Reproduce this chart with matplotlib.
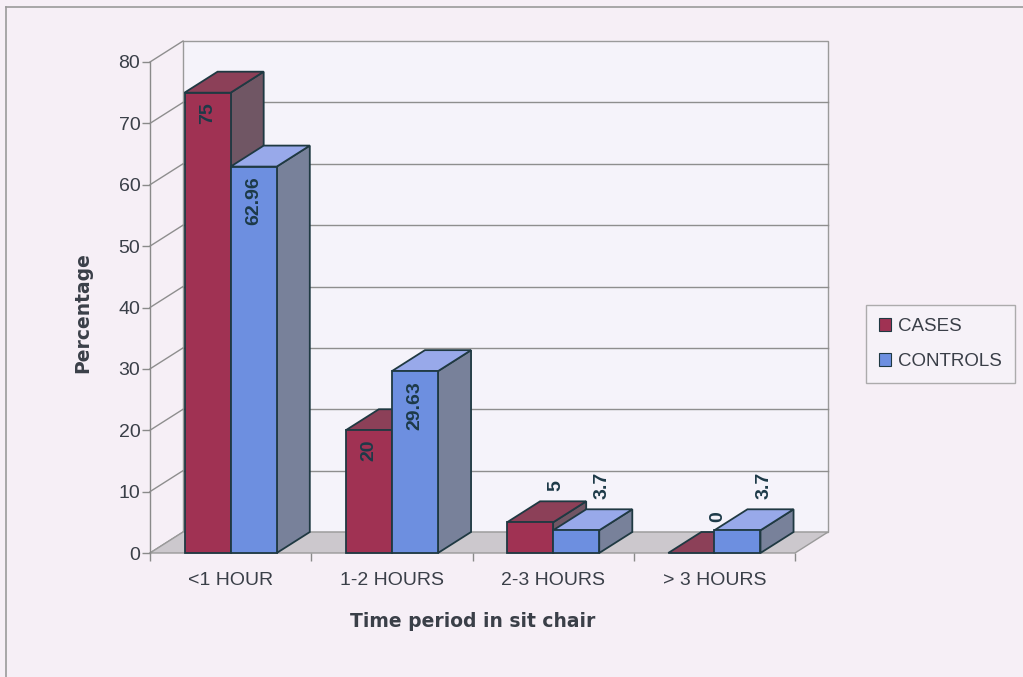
import matplotlib
matplotlib.use("Agg")
import matplotlib.pyplot as plt
from matplotlib.patches import Polygon, Rectangle
from matplotlib.lines import Line2D
from matplotlib.ticker import FixedLocator

plt.rcParams['font.family'] = ['Liberation Sans', 'DejaVu Sans']

categories = ['<1 HOUR', '1-2 HOURS', '2-3 HOURS', '> 3 HOURS']
cases = [75, 20, 5, 0]
controls = [62.96, 29.63, 3.7, 3.7]
series_names = ['CASES', 'CONTROLS']
y_ticks = [0, 10, 20, 30, 40, 50, 60, 70, 80]

# face colours: front, top, side
palette = {
    'CASES': ('#a03253', '#8c4058', '#705664'),
    'CONTROLS': ('#6d8fe0', '#98a9ea', '#78819a'),
}
edge = '#1f3942'
text_col = '#3a3f48'
label_col = '#1d3a48'

fig = plt.figure(figsize=(10.23, 6.77), dpi=100, facecolor='#f6eff6')
ax = fig.add_axes([150 / 1023, (677 - 553) / 677, 645 / 1023, 491 / 677])
ax.set_xlim(-0.5, len(categories) - 0.5)
ax.set_ylim(0, 80)
ax.patch.set_visible(False)
for s in ('top', 'right', 'bottom'):
    ax.spines[s].set_visible(False)
ax.spines['left'].set_color('#8a8a8a')
ax.spines['left'].set_linewidth(1.0)

# depth of the 3-D box in data units
dx, dy = 0.205, 3.42
x_lo, x_hi = -0.5, len(categories) - 0.5
ymax = 80

# back wall
wall = Polygon([(x_lo + dx, dy), (x_hi + dx, dy), (x_hi + dx, ymax + dy), (x_lo + dx, ymax + dy)],
               closed=True, facecolor='#f5f3fa', edgecolor='#9a9a9a', lw=1.0, clip_on=False, zorder=0)
ax.add_patch(wall)
for v in y_ticks[1:-1]:
    ax.add_line(Line2D([x_lo + dx, x_hi + dx], [v + dy, v + dy], color='#8e8e8e', lw=1.0,
                       clip_on=False, zorder=1))
for v in y_ticks:
    ax.add_line(Line2D([x_lo, x_lo + dx], [v, v + dy], color='#8e8e8e', lw=1.0,
                       clip_on=False, zorder=1))

# floor
floor = Polygon([(x_lo, 0), (x_hi, 0), (x_hi + dx, dy), (x_lo + dx, dy)], closed=True,
                facecolor='#ccc8cd', edgecolor='#9a9a9a', lw=1.0, clip_on=False, zorder=1)
ax.add_patch(floor)

bar_w = 0.286


def draw_bar(x0, v, colors):
    front, top, side = colors
    ax.add_patch(Polygon([(x0 + bar_w, 0), (x0 + bar_w + dx, dy), (x0 + bar_w + dx, v + dy), (x0 + bar_w, v)],
                         closed=True, facecolor=side, edgecolor=edge, lw=1.3, clip_on=False, zorder=3))
    ax.add_patch(Polygon([(x0, v), (x0 + bar_w, v), (x0 + bar_w + dx, v + dy), (x0 + dx, v + dy)],
                         closed=True, facecolor=top, edgecolor=edge, lw=1.3, clip_on=False, zorder=3))
    if v > 0:
        ax.add_patch(Rectangle((x0, 0), bar_w, v, facecolor=front, edgecolor=edge, lw=1.3,
                               clip_on=False, zorder=3))


def label(x0, v):
    txt = f'{v:g}'
    if v > 15:
        ax.annotate(txt, (x0 + bar_w / 2, v), xytext=(0, -7), textcoords='offset points',
                    rotation=90, ha='center', va='top', fontsize=14, fontweight='bold',
                    color=label_col, zorder=6)
    else:
        ax.annotate(txt, (x0 + bar_w / 2 + dx / 2, v + dy / 2), xytext=(7, 15),
                    textcoords='offset points', rotation=90, ha='center', va='bottom',
                    fontsize=14, fontweight='bold', color=label_col, zorder=6)


for i in range(len(categories)):
    for j, (name, vals) in enumerate(zip(series_names, (cases, controls))):
        x0 = i - bar_w + j * bar_w
        draw_bar(x0, vals[i], palette[name])
for i in range(len(categories)):
    for j, vals in enumerate((cases, controls)):
        x0 = i - bar_w + j * bar_w
        label(x0, vals[i])

# axes ticks and labels
ax.set_yticks(y_ticks)
ax.tick_params(axis='y', direction='out', length=6, width=1.0, color='#8a8a8a',
               labelsize=14, labelcolor=text_col, pad=1)
ax.set_xticks(range(len(categories)))
ax.set_xticklabels(categories)
ax.xaxis.set_minor_locator(FixedLocator([k - 0.5 for k in range(len(categories) + 1)]))
ax.tick_params(axis='x', which='major', length=0, labelsize=14, labelcolor=text_col, pad=14)
ax.tick_params(axis='x', which='minor', direction='out', length=6, width=1.0, color='#8a8a8a')

ax.set_ylabel('Percentage', fontsize=13.5, fontweight='bold', color=text_col,
              family=['DejaVu Sans'])
ax.yaxis.set_label_coords(-0.090, 0.489)
ax.set_xlabel('Time period in sit chair', fontsize=13.5, fontweight='bold', color=text_col,
              family=['DejaVu Sans'])
ax.xaxis.set_label_coords(0.501, -0.120)

# legend
handles = [Rectangle((0, 0), 1, 1, facecolor=palette[n][0], edgecolor=edge, lw=0.8) for n in series_names]
leg = fig.legend(handles, series_names, loc='upper left', bbox_to_anchor=(866 / 1023, 1 - 305 / 677),
                 frameon=True, fancybox=False, fontsize=13.5, handlelength=0.65, handleheight=0.65,
                 handletextpad=0.35, borderpad=0.7, labelspacing=0.95, borderaxespad=0)
leg.get_frame().set_edgecolor('#9a9a9a')
leg.get_frame().set_facecolor('#f6f4f9')
leg.get_frame().set_linewidth(1.0)
for t in leg.get_texts():
    t.set_color(text_col)

# chart frame
fig.add_artist(Line2D([6 / 1023, 6 / 1023], [0, 1 - 7 / 677], color='#9a9a9a', lw=1.2))
fig.add_artist(Line2D([6 / 1023, 1], [1 - 7 / 677, 1 - 7 / 677], color='#9a9a9a', lw=1.2))

fig.savefig('out.png', dpi=100, facecolor=fig.get_facecolor())
